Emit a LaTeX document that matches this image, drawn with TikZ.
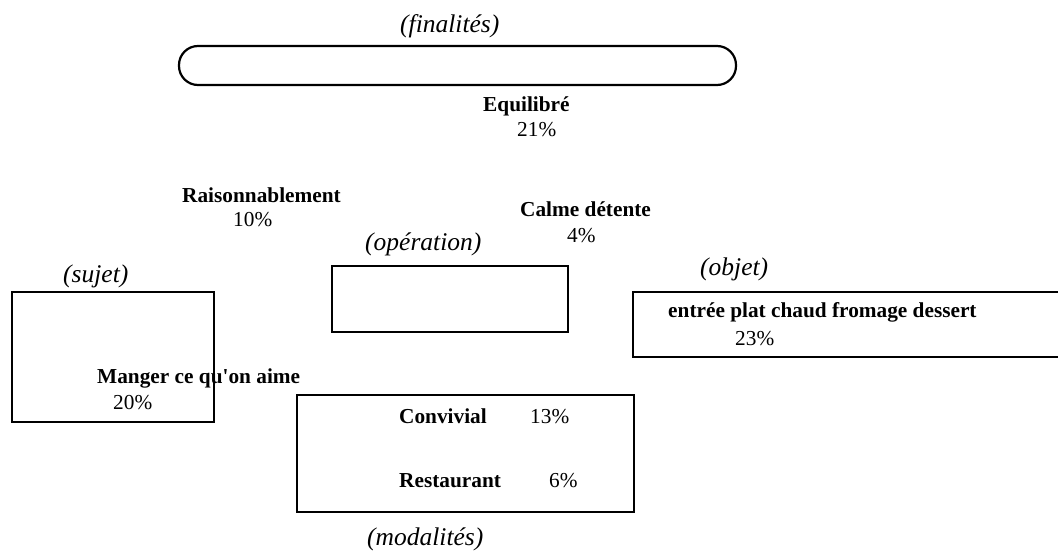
\documentclass[tikz,border=0pt]{standalone}
\usepackage{fontspec}
\setmainfont{Liberation Serif}
\begin{document}
\begin{tikzpicture}[x=1pt,y=-1pt,
  box/.style={draw=black,line width=2.2pt,rectangle,inner sep=0pt},
  pill/.style={draw=black,line width=2.2pt,rectangle,rounded corners=19pt,inner sep=0pt},
  lab/.style={anchor=base west,inner sep=0pt,font=\fontsize{21.3}{24}\selectfont\bfseries},
  pct/.style={anchor=base west,inner sep=0pt,font=\fontsize{21.3}{24}\selectfont},
  role/.style={anchor=base west,inner sep=0pt,font=\fontsize{25.5}{28}\selectfont\itshape}]
\useasboundingbox[fill=white] (0,0) rectangle (1058,556);

% boxes
\node[pill, minimum width=557pt, minimum height=39pt] (fin) at (457.5,65.5) {};
\node[box, minimum width=202pt, minimum height=130pt] (suj) at (113,357) {};
\node[box, minimum width=236pt, minimum height=66pt] (op) at (450,299) {};
\node[box, minimum width=437pt, minimum height=65pt] (obj) at (851.5,324.5) {};
\node[box, minimum width=337pt, minimum height=117pt] (mod) at (465.5,453.5) {};

% role labels
\node[role] (tfin) at (400,33) {(finalités)};
\node[role] (tsuj) at (63,283) {(sujet)};
\node[role] (top) at (365,251) {(opération)};
\node[role] (tobj) at (700,276) {(objet)};
\node[role] (tmod) at (367,545) {(modalités)};

% answers
\node[lab] (equ) at (483,112) {Equilibré};
\node[pct] (equp) at (517,137) {21\%};
\node[lab] (rai) at (182,203) {Raisonnablement};
\node[pct] (raip) at (233,227) {10\%};
\node[lab] (cal) at (520,217) {Calme détente};
\node[pct] (calp) at (567,243) {4\%};
\node[lab] (man) at (97,383) {Manger ce qu\textquotesingle on aime};
\node[pct] (manp) at (113,409) {20\%};
\node[lab] (ent) at (668,317) {entrée plat chaud fromage dessert};
\node[pct] (entp) at (735,345) {23\%};
\node[lab] (con) at (399,423) {Convivial};
\node[pct] (conp) at (530,423) {13\%};
\node[lab] (res) at (399,487) {Restaurant};
\node[pct] (resp) at (549,487) {6\%};
\end{tikzpicture}
\end{document}
